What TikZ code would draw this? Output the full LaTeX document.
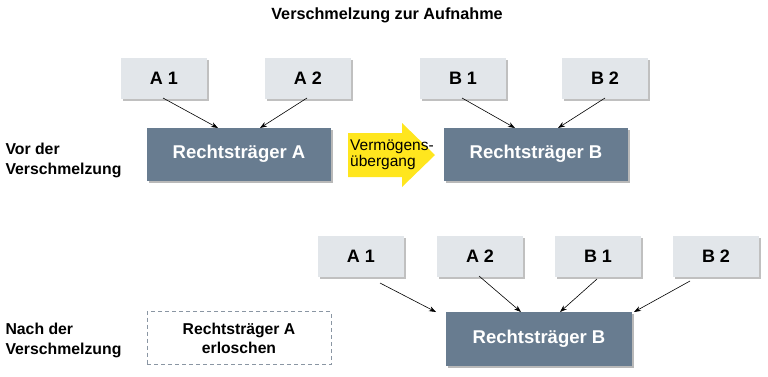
\documentclass[tikz,border=0pt]{standalone}
\usepackage{fontspec}
\setmainfont{Liberation Sans}
\usetikzlibrary{shadows,arrows.meta}
\definecolor{lightbox}{HTML}{E2E6EA}
\definecolor{darkbox}{HTML}{687C90}
\definecolor{arrowyellow}{HTML}{FFE61E}
\definecolor{dashgray}{HTML}{8A96A3}
\begin{document}
\begin{tikzpicture}[x=1pt,y=-1pt,
  smallbox/.style={fill=lightbox, minimum width=86pt, minimum height=41pt, inner sep=0pt,
    font=\bfseries\fontsize{18}{20}\selectfont,
    drop shadow={shadow xshift=2pt, shadow yshift=-2pt, fill=black!45, opacity=0.55}},
  bigbox/.style={fill=darkbox, text=white, minimum width=184pt, minimum height=53pt, inner sep=0pt,
    font=\bfseries\fontsize{18.5}{20}\selectfont,
    drop shadow={shadow xshift=2pt, shadow yshift=-2pt, fill=black!50, opacity=0.55}},
  conn/.style={-{Stealth[length=7pt,width=5pt]}, line width=0.6pt},
  sidelabel/.style={anchor=west, align=left, font=\bfseries\fontsize{15.8}{20}\selectfont}]
\useasboundingbox (0,0) rectangle (768,376);

\node[font=\bfseries\fontsize{16.2}{18}\selectfont] (title) at (387,15) {Verschmelzung zur Aufnahme};

% top row
\node[smallbox] (a1) at (164,78) {A 1};
\node[smallbox] (a2) at (308,78) {A 2};
\node[bigbox] (ra) at (239,154) {Rechtsträger A};
\node[smallbox] (b1) at (463,78) {B 1};
\node[smallbox] (b2) at (605,78) {B 2};
\node[bigbox] (rb) at (536,154) {Rechtsträger B};

\coordinate (a1s) at (163,98);
\coordinate (a2s) at (307,98);
\coordinate (b1s) at (462,98);
\coordinate (b2s) at (605,98);
\draw[conn] (a1s) -- (218,128);
\draw[conn] (a2s) -- (260,128);
\draw[conn] (b1s) -- (515,128);
\draw[conn] (b2s) -- (558,128);

% yellow transfer arrow
\fill[arrowyellow] (348,133) -- (402,133) -- (402,123) -- (435,155) -- (402,187) -- (402,177)
  -- (348,177) -- cycle;
\node[align=left, anchor=west, font=\fontsize{15.5}{16}\selectfont, inner sep=0pt] (arrlabel) at (350,155) {Vermögens-\\übergang};

\node[sidelabel] (vor) at (2,160) {Vor der\\Verschmelzung};

% bottom row
\node[smallbox] (c1) at (361,256) {A 1};
\node[smallbox] (c2) at (480,256) {A 2};
\node[smallbox] (c3) at (598,256) {B 1};
\node[smallbox] (c4) at (716,256) {B 2};
\node[bigbox, minimum width=186pt, minimum height=54pt] (rb2) at (539,339) {Rechtsträger B};

\draw[conn] (380,283) -- (436,312);
\draw[conn] (479,276) -- (521,312);
\draw[conn] (597,279) -- (560,312);
\draw[conn] (690,281) -- (634,312);

\node[draw=dashgray, dash pattern=on 4pt off 3pt, line width=0.8pt, minimum width=184pt, minimum height=53pt,
  align=center, font=\bfseries\fontsize{15.7}{19}\selectfont] (gone) at (239,338) {Rechtsträger A\\erloschen};

\node[sidelabel] (nach) at (2,340) {Nach der\\Verschmelzung};
\end{tikzpicture}
\end{document}
